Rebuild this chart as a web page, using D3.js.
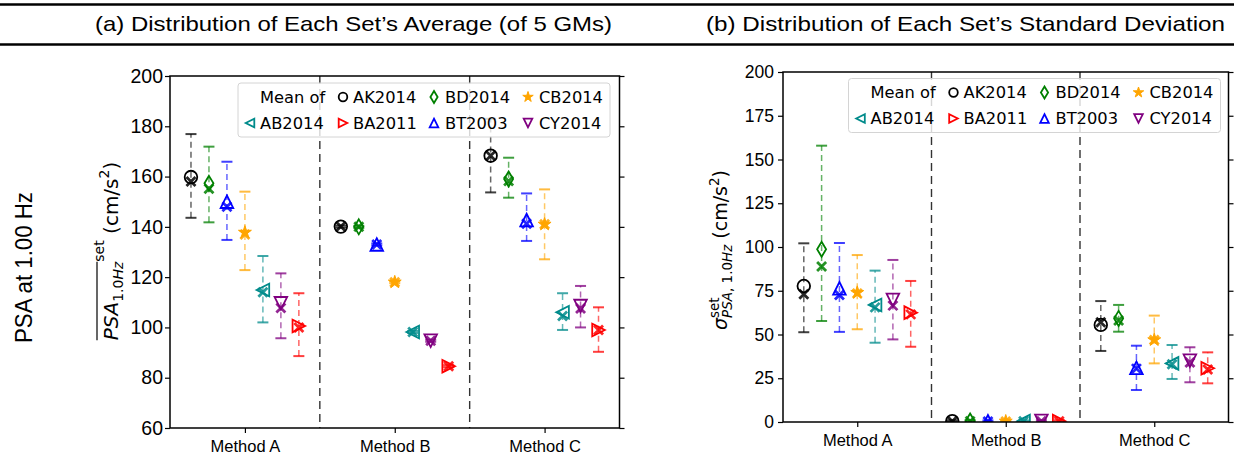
<!DOCTYPE html>
<html>
<head>
<meta charset="utf-8">
<script src="https://cdn.jsdelivr.net/npm/d3@7"></script>
<style>
  body { margin: 0; background: #fff; }
  svg { display: block; font-family: "DejaVu Sans", sans-serif; }
</style>
</head>
<body>
<div id="chart"></div>
<script>
// Categories and ground-motion models (plot order inside each method)
const methods = ["Method A", "Method B", "Method C"];
const sets = ["AK2014", "BD2014", "BT2003", "CB2014", "AB2014", "CY2014", "BA2011"];
const setColors = ["#000000", "#008000", "#0000ff", "#ffa500", "#008b8b", "#800080", "#ff0000"];
const setShapes = ["circle", "diamond", "triUp", "star", "triLeft", "triDown", "triRight"];
// legend is filled column by column, "Mean of" takes the first slot
const legendOrder = ["AB2014", "AK2014", "BA2011", "BD2014", "BT2003", "CB2014", "CY2014"];

const avgTicks = [60, 80, 100, 120, 140, 160, 180, 200];
const sdTicks = [0, 25, 50, 75, 100, 125, 150, 175, 200];

// (a) set averages, [method][set]
const avgMean = [
  [159.8, 157.3, 150.0, 137.8, 114.9, 109.6, 100.6],
  [140.1, 140.0, 133.0, 118.0, 98.2, 94.7, 84.6],
  [168.3, 159.0, 142.7, 141.0, 106.0, 108.5, 99.0]
];
const avgCross = [
  [158.0, 155.2, 148.0, 137.0, 114.0, 107.7, 100.0],
  [140.1, 140.0, 133.0, 118.0, 98.2, 94.7, 84.6],
  [168.3, 158.2, 141.2, 141.0, 104.5, 107.5, 99.0]
];
const avgLow = [
  [143.6, 141.8, 134.8, 122.8, 102.0, 95.7, 88.6],
  [139.7, 139.6, 132.6, 117.6, 97.8, 94.3, 84.2],
  [153.7, 151.6, 134.4, 127.1, 99.0, 100.0, 90.3]
];
const avgHigh = [
  [176.9, 171.9, 165.9, 154.0, 128.4, 121.5, 113.6],
  [140.5, 140.4, 133.4, 118.4, 98.6, 95.1, 85.0],
  [183.0, 167.5, 153.3, 154.9, 113.6, 116.5, 108.0]
];

// (b) set standard deviations, [method][set]
const sdMean = [
  [77.7, 98.7, 76.4, 73.9, 66.9, 69.7, 62.5],
  [0.5, 0.6, 0.4, 0.4, 0.5, 0.6, 0.5],
  [55.5, 59.2, 31.0, 46.9, 33.5, 35.0, 30.7]
];
const sdCross = [
  [73.0, 88.8, 72.6, 73.5, 65.5, 66.5, 61.5],
  [0.4, 0.4, 0.3, 0.3, 0.4, 0.4, 0.4],
  [57.0, 58.0, 30.5, 46.9, 33.0, 34.0, 30.0]
];
const sdLow = [
  [51.3, 57.7, 51.5, 53.0, 45.3, 47.2, 43.0],
  [0.0, 0.0, 0.0, 0.0, 0.0, 0.0, 0.0],
  [40.6, 51.6, 18.3, 33.5, 24.6, 22.7, 22.1]
];
const sdHigh = [
  [102.1, 157.9, 102.3, 95.4, 86.5, 92.6, 80.6],
  [1.0, 1.1, 0.9, 0.8, 0.9, 1.0, 1.0],
  [69.1, 66.9, 43.6, 60.8, 44.0, 42.7, 39.8]
];

/*
 * marker path, centred on 0,0 (matplotlib-like shapes)
 */
function markerPath(shape, r) {
  if (shape === "circle") return d3.symbol(d3.symbolCircle, Math.PI * r * r)();
  if (shape === "star") return d3.symbol(d3.symbolStar, (r * r) / 0.8908)();
  if (shape === "diamond") {
    return `M0,${-r}L${0.6 * r},0L0,${r}L${-0.6 * r},0Z`;
  }
  // triangles pointing up, then rotated
  let pts = [[0, -r], [r, r], [-r, r]];
  let rot = { triUp: 0, triRight: 90, triDown: 180, triLeft: 270 }[shape];
  let a = (rot * Math.PI) / 180;
  pts = pts.map(p => [p[0] * Math.cos(a) - p[1] * Math.sin(a), p[0] * Math.sin(a) + p[1] * Math.cos(a)]);
  return "M" + pts.map(p => p[0].toFixed(2) + "," + p[1].toFixed(2)).join("L") + "Z";
}

/*
 * rotated axis title built from pieces (sub/superscripts, overline)
 */
function mathLabel(parent, bx, cy, pieces) {
  let g = parent.append("g").attr("transform", `translate(${bx},${cy}) rotate(-90)`);
  let inner = g.append("g");
  let cursor = 0, overStart = null, overEnd = 0, overY = 0;
  pieces.forEach(p => {
    let t = inner.append("text")
      .attr("x", cursor)
      .attr("y", p.dy || 0)
      .style("font-size", p.size + "px")
      .style("font-style", p.italic ? "italic" : "normal")
      .style("white-space", "pre")
      .text(p.t);
    let w = t.node().getComputedTextLength();
    if (p.over) {
      if (overStart === null) overStart = cursor;
      overEnd = cursor + w;
      overY = p.over;
    }
    if (!p.hold) cursor += w;
  });
  if (overStart !== null) {
    inner.append("line")
      .attr("x1", overStart).attr("x2", overEnd)
      .attr("y1", overY).attr("y2", overY)
      .attr("stroke", "#000").attr("stroke-width", 1.2);
  }
  inner.attr("transform", `translate(${-cursor / 2},0)`);
}

class ErrorBarVis {
  constructor(_svg, _config) {
    this.svg = _svg;
    this.config = _config;
    this.initVis();
  }

  initVis() {
    let vis = this;
    let c = vis.config;

    vis.g = vis.svg.append("g");

    vis.x = d3.scaleLinear().domain([-0.5, 2.5]).range([c.left, c.right]);
    vis.y = d3.scaleLinear().domain(c.yDomain).range([c.bottom, c.top]);
    // small horizontal shift of each set inside its method
    vis.shift = d3.scaleLinear().domain([0, sets.length - 1]).range([-0.36, 0.36]);

    vis.g.append("clipPath").attr("id", c.id + "-clip")
      .append("rect")
      .attr("x", c.left).attr("y", c.top)
      .attr("width", c.right - c.left).attr("height", c.bottom - c.top);

    // axes
    vis.g.append("g")
      .attr("transform", `translate(${c.left},0)`)
      .call(d3.axisLeft(vis.y).tickValues(c.ticks).tickSize(5).tickPadding(c.tickPad).tickSizeOuter(0))
      .call(a => a.select(".domain").remove())
      .call(a => a.selectAll("text").style("font-size", c.tickFont + "px").attr("fill", "#000"));

    vis.g.append("g")
      .attr("transform", `translate(${c.right},0)`)
      .call(d3.axisRight(vis.y).tickValues(c.ticks).tickSize(5).tickFormat("").tickSizeOuter(0))
      .call(a => a.select(".domain").remove());

    vis.g.append("g")
      .attr("transform", `translate(0,${c.bottom})`)
      .call(d3.axisBottom(vis.x).tickValues([0, 1, 2]).tickFormat(i => methods[i]).tickSize(5).tickPadding(7).tickSizeOuter(0))
      .call(a => a.select(".domain").remove())
      .call(a => a.selectAll("text").style("font-size", "16.5px").attr("fill", "#000"));

    vis.g.selectAll(".tick line").attr("stroke", "#000").attr("stroke-width", 1.2);

    // separators between methods
    vis.g.selectAll(".sep")
      .data([0.5, 1.5])
      .enter().append("line")
      .attr("class", "sep")
      .attr("x1", d => vis.x(d)).attr("x2", d => vis.x(d))
      .attr("y1", c.top).attr("y2", c.bottom)
      .attr("stroke", "#333").attr("stroke-width", 1.4)
      .attr("stroke-dasharray", "8,5");

    vis.plot = vis.g.append("g").attr("clip-path", `url(#${c.id}-clip)`);

    vis.wrangleData();
  }

  wrangleData() {
    let vis = this;
    let c = vis.config;

    vis.displayData = [];
    methods.forEach((m, mi) => {
      sets.forEach((s, si) => {
        vis.displayData.push({
          xPos: mi + vis.shift(si),
          color: setColors[si],
          shape: setShapes[si],
          mean: c.mean[mi][si],
          cross: c.cross[mi][si],
          low: c.low[mi][si],
          high: c.high[mi][si]
        });
      });
    });

    vis.updateVis();
  }

  updateVis() {
    let vis = this;
    let c = vis.config;

    let bars = vis.plot.selectAll(".bar")
      .data(vis.displayData)
      .enter().append("g")
      .attr("class", "bar")
      .attr("transform", d => `translate(${vis.x(d.xPos)},0)`);

    bars.append("line")
      .attr("y1", d => vis.y(d.low)).attr("y2", d => vis.y(d.high))
      .attr("stroke", d => d.color).attr("stroke-width", 1.5)
      .attr("stroke-dasharray", "6,4").attr("opacity", 0.6);

    bars.selectAll(".cap")
      .data(d => [d.low, d.high].map(v => ({ v: v, color: d.color })))
      .enter().append("line")
      .attr("x1", -5.5).attr("x2", 5.5)
      .attr("y1", e => vis.y(e.v)).attr("y2", e => vis.y(e.v))
      .attr("stroke", e => e.color).attr("stroke-width", 2)
      .attr("opacity", 0.75);

    // cross marker
    bars.append("path")
      .attr("transform", d => `translate(0,${vis.y(d.cross)})`)
      .attr("d", "M-4.5,-4.5L4.5,4.5M-4.5,4.5L4.5,-4.5")
      .attr("stroke", d => d.color).attr("stroke-width", 2.8)
      .attr("fill", "none").attr("opacity", 0.85);

    // mean marker
    bars.append("path")
      .attr("transform", d => `translate(0,${vis.y(d.mean)})`)
      .attr("d", d => markerPath(d.shape, d.shape === "diamond" ? 7.5 : d.shape === "star" ? 6.8 : 6.3))
      .attr("fill", d => d.shape === "star" ? d.color : "none")
      .attr("stroke", d => d.color).attr("stroke-width", d => d.shape === "star" ? 1 : 1.8);

    // legend
    let lg = vis.g.append("g").attr("transform", `translate(${c.legendX},${c.legendY})`);
    lg.append("rect")
      .attr("width", 372).attr("height", 54).attr("rx", 3)
      .attr("fill", "#fff").attr("fill-opacity", 0.8)
      .attr("stroke", "#d4d4d4").attr("stroke-width", 1);

    let colX = [[12, 22], [105, 115], [196, 207], [290, 301]];
    let rowY = [14, 40];
    lg.append("text").attr("x", 22).attr("y", rowY[0]).attr("dy", "0.35em")
      .style("font-size", "16.3px").text("Mean of");

    legendOrder.forEach((name, k) => {
      let slot = k + 1;
      let col = Math.floor(slot / 2), row = slot % 2;
      let si = sets.indexOf(name);
      let item = lg.append("g").attr("transform", `translate(0,${rowY[row]})`);
      item.append("path")
        .attr("transform", `translate(${colX[col][0]},0)`)
        .attr("d", markerPath(setShapes[si], setShapes[si] === "diamond" ? 6 : setShapes[si] === "star" ? 5.5 : 4.3))
        .attr("fill", setShapes[si] === "star" ? setColors[si] : "none")
        .attr("stroke", setColors[si]).attr("stroke-width", setShapes[si] === "star" ? 1 : 1.8);
      item.append("text").attr("x", colX[col][1]).attr("dy", "0.35em")
        .style("font-size", "16.3px").text(name);
    });

    // frame
    vis.g.append("rect")
      .attr("x", c.left).attr("y", c.top)
      .attr("width", c.right - c.left).attr("height", c.bottom - c.top)
      .attr("fill", "none").attr("stroke", "#000").attr("stroke-width", 1.5);
  }
}

const width = 1234, height = 459;
const svg = d3.select("#chart").append("svg").attr("width", width).attr("height", height);

// header rules and titles
svg.selectAll(".rule")
  .data([4.5, 44.5])
  .enter().append("line")
  .attr("x1", 0).attr("x2", width)
  .attr("y1", d => d).attr("y2", d => d)
  .attr("stroke", "#000").attr("stroke-width", 2.5);

const headFont = "'Liberation Sans Narrow', 'Liberation Sans', sans-serif";
svg.append("text").attr("x", 95).attr("y", 31)
  .attr("textLength", 517).attr("lengthAdjust", "spacingAndGlyphs")
  .style("font-family", headFont).style("font-size", "21px")
  .text("(a) Distribution of Each Set’s Average (of 5 GMs)");
svg.append("text").attr("x", 706).attr("y", 31)
  .attr("textLength", 519).attr("lengthAdjust", "spacingAndGlyphs")
  .style("font-family", headFont).style("font-size", "21px")
  .text("(b) Distribution of Each Set’s Standard Deviation");

svg.append("text")
  .attr("transform", "translate(31.5,267.5) rotate(-90)")
  .attr("text-anchor", "middle")
  .attr("textLength", 151).attr("lengthAdjust", "spacingAndGlyphs")
  .style("font-family", headFont).style("font-size", "23px")
  .text("PSA at 1.00 Hz");

new ErrorBarVis(svg, {
  id: "avg", left: 170, right: 619.5, top: 76, bottom: 428,
  yDomain: [60, 200], ticks: avgTicks, tickFont: 19.5, tickPad: 2,
  mean: avgMean, cross: avgCross, low: avgLow, high: avgHigh,
  legendX: 238, legendY: 83
});

new ErrorBarVis(svg, {
  id: "sd", left: 783, right: 1228.5, top: 72, bottom: 422,
  yDomain: [0, 200], ticks: sdTicks, tickFont: 17.5, tickPad: 4,
  mean: sdMean, cross: sdCross, low: sdLow, high: sdHigh,
  legendX: 848.5, legendY: 78.5
});

// y-axis titles
mathLabel(svg, 118, 251, [
  { t: "PSA", size: 20, italic: true, over: -21 },
  { t: "1.0", size: 14, dy: 5, over: -21 },
  { t: "Hz", size: 14, dy: 5, italic: true, over: -21 },
  { t: "set", size: 14, dy: -14 },
  { t: "\u00a0(cm/s", size: 20 },
  { t: "2", size: 14, dy: -9 },
  { t: ")", size: 20 }
]);

mathLabel(svg, 727, 250, [
  { t: "σ", size: 19, italic: true },
  { t: "set", size: 13.5, dy: -8, hold: true },
  { t: "PSA", size: 13.5, dy: 5, italic: true },
  { t: ", 1.0", size: 13.5, dy: 5 },
  { t: "Hz", size: 13.5, dy: 5, italic: true },
  { t: "\u00a0(cm/s", size: 19 },
  { t: "2", size: 13.5, dy: -8 },
  { t: ")", size: 19 }
]);
</script>
</body>
</html>
